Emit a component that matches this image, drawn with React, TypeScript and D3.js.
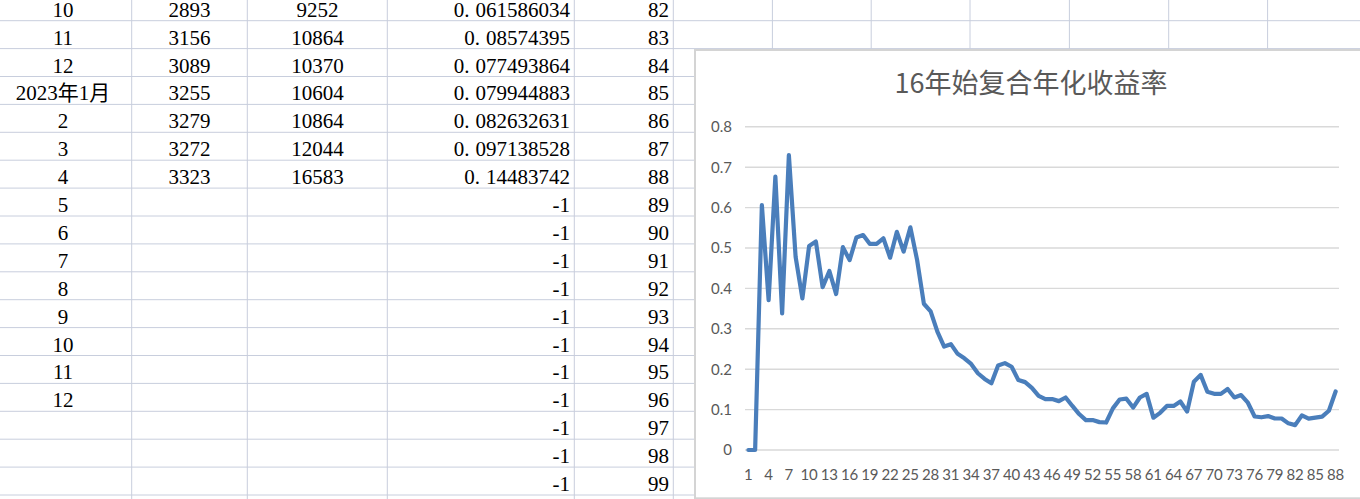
import React from "react";
import * as d3 from "d3";

// ---- spreadsheet data ----
const colA = ["10", "11", "12", "2023年1月", "2", "3", "4", "5", "6", "7", "8", "9", "10", "11", "12", "", "", ""];
const colB = ["2893", "3156", "3089", "3255", "3279", "3272", "3323"];
const colC = ["9252", "10864", "10370", "10604", "10864", "12044", "16583"];
const colD = ["0.061586034", "0.08574395", "0.077493864", "0.079944883", "0.082632631", "0.097138528", "0.14483742",
  "-1", "-1", "-1", "-1", "-1", "-1", "-1", "-1", "-1", "-1", "-1"];
const colE = ["82", "83", "84", "85", "86", "87", "88", "89", "90", "91", "92", "93", "94", "95", "96", "97", "98", "99"];

// ---- chart data ----
const chartTitle = "16年始复合年化收益率";
const rateValues = [
  0, 0, 0.606, 0.371, 0.677, 0.338, 0.730, 0.478, 0.375, 0.505,
  0.516, 0.403, 0.443, 0.386, 0.502, 0.470, 0.526, 0.532, 0.510, 0.510,
  0.524, 0.476, 0.540, 0.491, 0.551, 0.470, 0.362, 0.343, 0.293, 0.256,
  0.262, 0.238, 0.227, 0.213, 0.190, 0.176, 0.165, 0.209, 0.215, 0.206,
  0.173, 0.168, 0.154, 0.134, 0.126, 0.126, 0.121, 0.130, 0.109, 0.089,
  0.074, 0.074, 0.069, 0.068, 0.103, 0.125, 0.127, 0.105, 0.130, 0.139,
  0.080, 0.092, 0.109, 0.109, 0.120, 0.095, 0.169, 0.186, 0.144, 0.139,
  0.139, 0.151, 0.130, 0.136, 0.117, 0.083, 0.081, 0.084, 0.078, 0.078,
  0.066, 0.061586034, 0.08574395, 0.077493864, 0.079944883, 0.082632631, 0.097138528, 0.14483742,
];
const categories = rateValues.map((_, i) => i + 1);
const yTicks = [0, 0.1, 0.2, 0.3, 0.4, 0.5, 0.6, 0.7, 0.8];

const W = 1360;
const H = 499;
const ROW0 = 20.7;
const ROWH = 27.9;
const colLines = [131.7, 247.3, 387.3, 574.3, 673.3, 772.4, 871.2, 970, 1069.4, 1168.7, 1267.6];
const gridColor = "#c8cedd";
const serif = "'Liberation Serif', 'Times New Roman', 'Noto Sans CJK SC', serif";
const sans = "Lato, 'Noto Sans', sans-serif";

export default function App() {
  const x = d3.scalePoint<number>().domain(categories).range([745, 1339]).padding(0.5);
  const y = d3.scaleLinear().domain([0, 0.8]).range([450, 126.8]);
  const line = d3
    .line<number>()
    .x((_, i) => x(categories[i]) as number)
    .y((d) => y(d));

  const nRows = colE.length;
  const rowLines = d3.range(nRows).map((k) => ROW0 + k * ROWH);
  const baseline = (k: number) => 16.7 + k * ROWH;

  const xLabels = categories.filter((c) => (c - 1) % 3 === 0);

  return (
    <svg width={W} height={H} style={{ position: "absolute", left: 0, top: 0, background: "#fff" }}>
      <rect x={0} y={0} width={W} height={H} fill="#fff" />
      {/* spreadsheet grid */}
      {rowLines.map((ly, i) => (
        <line key={"r" + i} x1={0} x2={W} y1={ly} y2={ly} stroke={gridColor} strokeWidth={1} />
      ))}
      {colLines.map((lx, i) => (
        <line key={"c" + i} x1={lx} x2={lx} y1={0} y2={H} stroke={gridColor} strokeWidth={1} />
      ))}
      {/* cells */}
      <g fontFamily={serif} fontSize={21} fill="#000">
        {colA.map((t, k) => (
          <text key={"a" + k} x={63} y={baseline(k)} textAnchor="middle">{t}</text>
        ))}
        {colB.map((t, k) => (
          <text key={"b" + k} x={189.5} y={baseline(k)} textAnchor="middle">{t}</text>
        ))}
        {colC.map((t, k) => (
          <text key={"cc" + k} x={317.5} y={baseline(k)} textAnchor="middle">{t}</text>
        ))}
        {colD.map((t, k) =>
          t.startsWith("0.") ? (
            <text key={"d" + k} x={570} y={baseline(k)} textAnchor="end">
              {"0."}
              <tspan dx={6}>{t.slice(2)}</tspan>
            </text>
          ) : (
            <text key={"d" + k} x={570} y={baseline(k)} textAnchor="end">{t}</text>
          )
        )}
        {colE.map((t, k) => (
          <text key={"e" + k} x={669} y={baseline(k)} textAnchor="end">{t}</text>
        ))}
      </g>

      {/* chart */}
      <rect x={695} y={50} width={700} height={448.3} fill="#fff" stroke="#d4d4d4" strokeWidth={2} />
      <text x={1031} y={93} textAnchor="middle" fontFamily="'Noto Sans CJK SC', 'Noto Sans', sans-serif" fontSize={27} fill="#595959">
        {chartTitle}
      </text>
      {yTicks.map((t) => (
        <g key={"yt" + t}>
          <line x1={745} x2={1339} y1={y(t)} y2={y(t)} stroke="#d9d9d9" strokeWidth={1.4} />
          <text x={732} y={y(t) + 5.3} textAnchor="end" fontFamily={sans} fontSize={15} fill="#595959">
            {String(t)}
          </text>
        </g>
      ))}
      {xLabels.map((c) => (
        <text key={"xl" + c} x={x(c) as number} y={480} textAnchor="middle" fontFamily={sans} fontSize={15} fill="#595959">
          {String(c)}
        </text>
      ))}
      <path d={line(rateValues) || ""} fill="none" stroke="#4a7ebb" strokeWidth={4.2} strokeLinejoin="round" strokeLinecap="round" />
    </svg>
  );
}
